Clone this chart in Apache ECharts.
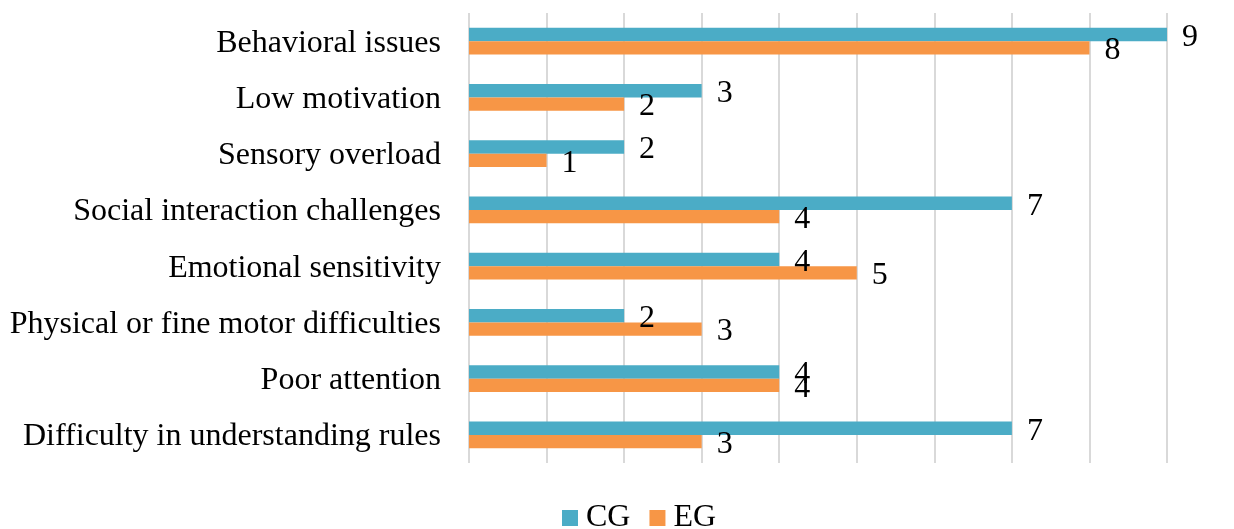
<!DOCTYPE html>
<html><head><meta charset="utf-8">
<script src="https://cdn.jsdelivr.net/npm/echarts@6/dist/echarts.min.js"></script>
<style>html,body{margin:0;padding:0;background:#fff}#c{width:1234px;height:529px}</style>
</head><body><div id="c"></div>
<script>
const categories = ["Behavioral issues","Low motivation","Sensory overload","Social interaction challenges","Emotional sensitivity","Physical or fine motor difficulties","Poor attention","Difficulty in understanding rules"];
const cgValues = [9,3,2,7,4,2,4,7];
const egValues = [8,2,1,4,5,3,4,3];
const seriesNames = ["CG","EG"];
const FONT = "'Liberation Serif','Times New Roman',serif";
const chart = echarts.init(document.getElementById('c'), null, {renderer:'canvas'});
const lbl = {show:true, position:'right', distance:15, offset:[0,3], color:'#000', fontFamily:FONT, fontSize:32};
chart.setOption({
  animation:false,
  grid:{left:469, right:67, top:13, bottom:66, containLabel:false},
  legend:{data:seriesNames, top:497, left:557, itemWidth:16, itemHeight:16, itemGap:19,
    icon:'rect', textStyle:{fontFamily:FONT, fontSize:32, color:'#000', padding:[0,0,0,3]}},
  xAxis:{type:'value', min:0, max:9, interval:1, axisLabel:{show:false}, axisLine:{show:false}, axisTick:{show:false},
    splitLine:{show:true, lineStyle:{color:'#d9d9d9', width:2}}},
  yAxis:{type:'category', data:categories, inverse:true, axisLine:{show:false}, axisTick:{show:false},
    splitLine:{show:false},
    axisLabel:{color:'#000', margin:28, formatter: v => '{a|' + v + '}',
      rich:{a:{fontFamily:FONT, fontSize:32, color:'#000', padding:[4,0,0,0]}}}},
  series:[
    {name:seriesNames[0], type:'bar', data:cgValues, barGap:'0%', barCategoryGap:'52.7%', itemStyle:{color:'#4BACC6'}, label:lbl},
    {name:seriesNames[1], type:'bar', data:egValues, barGap:'0%', barCategoryGap:'52.7%', itemStyle:{color:'#F79646'}, label:lbl}
  ]
});
</script></body></html>
